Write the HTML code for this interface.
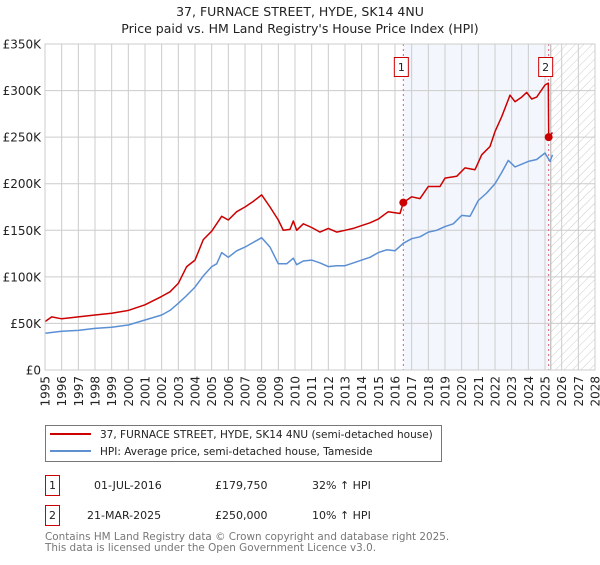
<!DOCTYPE html>
<html><head><meta charset="utf-8"><style>
body{margin:0;background:#fff;font-family:"Liberation Sans","DejaVu Sans",sans-serif;}
svg text{font-family:"DejaVu Sans","Liberation Sans",sans-serif;}
</style></head><body>
<svg id="c" width="600" height="560" xmlns="http://www.w3.org/2000/svg">
<defs><pattern id="hatch" width="6" height="6" patternUnits="userSpaceOnUse" patternTransform="rotate(45)"><line x1="0" y1="0" x2="0" y2="6" stroke="#ccc" stroke-width="1"/></pattern></defs>
<text x="300" y="16" text-anchor="middle" font-size="12.5" fill="#222">37, FURNACE STREET, HYDE, SK14 4NU</text>
<text x="300" y="33" text-anchor="middle" font-size="12.5" fill="#222">Price paid vs. HM Land Registry's House Price Index (HPI)</text>
<g id="plot"></g>
<g>
<rect x="45.5" y="425.5" width="396" height="36" fill="#fff" stroke="#777"/>
<line x1="50" y1="434" x2="91" y2="434" stroke="#cc0000" stroke-width="2"/>
<text x="100" y="438" font-size="10.5" fill="#222">37, FURNACE STREET, HYDE, SK14 4NU (semi-detached house)</text>
<line x1="50" y1="451" x2="91" y2="451" stroke="#6090d0" stroke-width="2"/>
<text x="100" y="455" font-size="10.5" fill="#222">HPI: Average price, semi-detached house, Tameside</text>
</g>
<g font-size="11" fill="#222">
<rect x="45.5" y="475.5" width="14" height="20" fill="#fff" stroke="#cc0000"/>
<text x="52.5" y="489" text-anchor="middle">1</text>
<text x="94" y="489">01-JUL-2016</text>
<text x="215" y="489">£179,750</text>
<text x="312" y="489">32% ↑ HPI</text>
<rect x="45.5" y="505.5" width="14" height="20" fill="#fff" stroke="#cc0000"/>
<text x="52.5" y="519" text-anchor="middle">2</text>
<text x="87" y="519">21-MAR-2025</text>
<text x="215" y="519">£250,000</text>
<text x="312" y="519">10% ↑ HPI</text>
</g>
<g font-size="10.4" fill="#777">
<text x="45" y="540">Contains HM Land Registry data © Crown copyright and database right 2025.</text>
<text x="45" y="551">This data is licensed under the Open Government Licence v3.0.</text>
</g>
</svg>
<script>
const hpiYears=[1995,1996,1997,1998,1999,2000,2001,2002,2002.5,2003,2003.5,2004,2004.5,2005,2005.3,2005.6,2006,2006.5,2007,2007.5,2008,2008.5,2009,2009.5,2009.9,2010.1,2010.5,2011,2011.5,2012,2012.5,2013,2013.5,2014,2014.5,2015,2015.5,2016,2016.5,2017,2017.5,2018,2018.5,2019,2019.5,2020,2020.5,2021,2021.5,2022,2022.4,2022.8,2023.2,2023.6,2024,2024.5,2025,2025.3,2025.45];
const hpiValues=[39400,41500,42500,44700,46000,48300,53700,59000,64000,71600,80000,89000,101000,111000,114000,126000,121000,128000,132000,137000,142000,132000,114000,114000,120000,113000,117000,118000,115000,111000,112000,112000,115000,118000,121000,126000,129000,128000,136000,141000,143000,148000,150000,154000,157000,166000,165000,182000,190000,200000,212000,225000,218000,221000,224000,226000,233000,224000,231000];
const ppYears=[1995,1995.4,1996,1997,1998,1999,2000,2001,2002,2002.5,2003,2003.5,2004,2004.5,2005,2005.6,2006,2006.5,2007,2007.5,2008,2008.5,2009,2009.3,2009.7,2009.9,2010.1,2010.5,2011,2011.5,2012,2012.5,2013,2013.5,2014,2014.5,2015,2015.6,2016.3,2016.5,2017,2017.5,2018,2018.7,2019,2019.7,2020.2,2020.8,2021.2,2021.7,2022,2022.4,2022.9,2023.2,2023.6,2023.9,2024.2,2024.5,2025,2025.2,2025.22,2025.45];
const ppValues=[52000,57000,55000,57000,59000,61000,64000,70000,79000,84000,93000,111000,118000,140000,149000,165000,161000,170000,175000,181000,188000,175000,161000,150000,151000,160000,150000,157000,153000,148000,152000,148000,150000,152000,155000,158000,162000,170000,168000,179750,186000,184000,197000,197000,206000,208000,217000,215000,231000,240000,256000,272000,295000,288000,293000,298000,291000,293000,306000,308000,250000,255000];
const saleYears=[2016.5,2025.22];
const saleValues=[179750,250000];
const yTicks=[0,50000,100000,150000,200000,250000,300000,350000];
const yTickLabels=["£0","£50K","£100K","£150K","£200K","£250K","£300K","£350K"];
const xTicks=[1995,1996,1997,1998,1999,2000,2001,2002,2003,2004,2005,2006,2007,2008,2009,2010,2011,2012,2013,2014,2015,2016,2017,2018,2019,2020,2021,2022,2023,2024,2025,2026,2027,2028];

const L=45,R=595,T=44,B=370;
const X=y=>L+(y-1995)*(R-L)/33;
const Y=v=>B-v*(B-T)/350000;
const NS="http://www.w3.org/2000/svg";
const g=document.getElementById('plot');
function mk(tag,attrs,parent){const e=document.createElementNS(NS,tag);for(const k in attrs)e.setAttribute(k,attrs[k]);(parent||g).appendChild(e);return e;}

const sh=mk('rect',{x:X(saleYears[0]),y:T,width:X(saleYears[1])-X(saleYears[0]),height:B-T,fill:'#eef3fc',opacity:0.7});


const hx=X(2025.35);
const ht=mk('rect',{x:hx,y:T,width:R-hx,height:B-T,fill:'url(#hatch)'});


mk('line',{x1:hx,y1:T,x2:hx,y2:B,stroke:'#999','stroke-width':0.8});

xTicks.forEach(t=>{
  const ln=mk('line',{x1:X(t),y1:T,x2:X(t),y2:B,stroke:'#ccc','stroke-width':1});
  
  
  const tx=mk('text',{x:0,y:0,'font-size':12,fill:'#222','text-anchor':'end',transform:`translate(${X(t)+4.5},${B+6}) rotate(-90)`});
  tx.textContent=t;
  
  
});
yTicks.forEach((t,i)=>{
  const ln=mk('line',{x1:L,y1:Y(t),x2:R,y2:Y(t),stroke:'#ccc','stroke-width':1});
  
  
  const tx=mk('text',{x:L-4,y:Y(t)+4.5,'font-size':12,fill:'#222','text-anchor':'end'});
  tx.textContent=yTickLabels[i];
  
  
});

saleYears.forEach((s,i)=>{
  const ln=mk('line',{x1:X(s),y1:T,x2:X(s),y2:B,stroke:'#e06070','stroke-width':1,'stroke-dasharray':'2,3'});
  
  
});

function path(xs,vs,color,name){
  const d=xs.map((x,i)=>(i?'L':'M')+X(x).toFixed(1)+','+Y(vs[i]).toFixed(1)).join('');
  const p=mk('path',{d:d,fill:'none',stroke:color,'stroke-width':1.5,'stroke-linejoin':'round'});
  
  
}
path(hpiYears,hpiValues,'#5b8fd4','hpi-line');
path(ppYears,ppValues,'#cc0000','property-price-line');

saleYears.forEach((s,i)=>{
  const c=mk('circle',{cx:X(s),cy:Y(saleValues[i]),r:4,fill:'#cc0000'});
  
  
  const bx=X(s)-7-(i?3:2);
  const r=mk('rect',{x:bx,y:57.5,width:14,height:19,fill:'#fff',stroke:'#cc0000'});
  
  
  const t=mk('text',{x:bx+7,y:71,'font-size':11,'text-anchor':'middle',fill:'#222'});
  t.textContent=String(i+1);
  
  
});
const frame=mk('rect',{x:L,y:T,width:R-L,height:B-T,fill:'none',stroke:'#ccc'});


</script>
</body></html>
